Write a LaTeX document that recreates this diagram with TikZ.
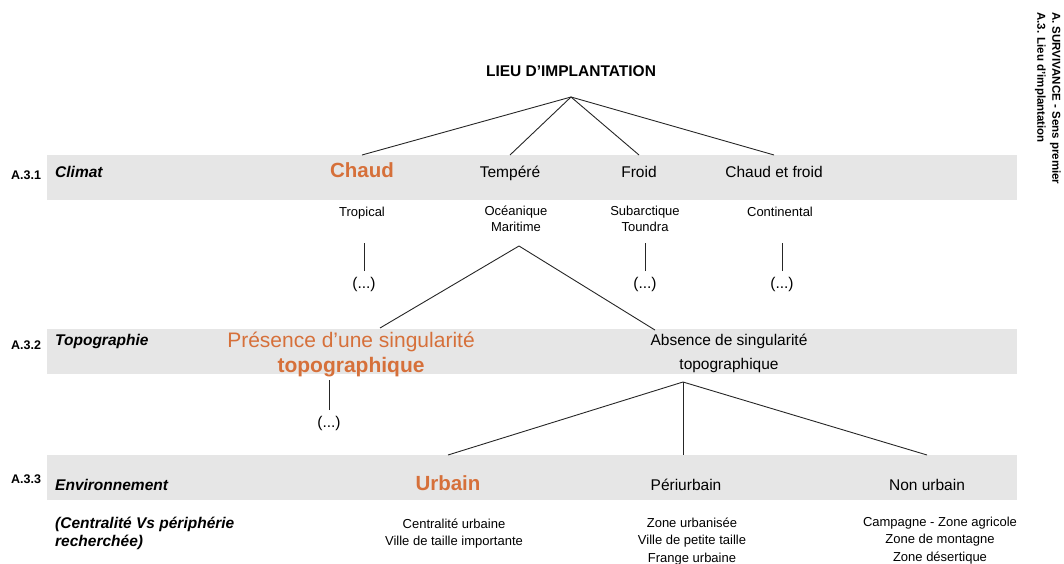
\documentclass[tikz,border=0pt]{standalone}
\usepackage{fontspec}
\setmainfont{Liberation Sans}
\definecolor{pickorange}{RGB}{214,112,58}
\definecolor{bandgray}{RGB}{230,230,230}
\tikzset{
  band/.style={fill=bandgray, inner sep=0pt, minimum width=970pt, minimum height=45pt, anchor=north west},
  code/.style={anchor=base west, inner sep=0pt, font=\bfseries\fontsize{12.5}{15}\selectfont},
  theme/.style={anchor=base west, inner sep=0pt, align=left, font=\bfseries\itshape\fontsize{15.5}{18.5}\selectfont},
  title/.style={anchor=base, font=\bfseries\fontsize{15.5}{18}\selectfont},
  opt/.style={anchor=base, align=center, font=\fontsize{15.5}{24}\selectfont},
  pick/.style={anchor=base, text=pickorange, font=\bfseries\fontsize{20.5}{24}\selectfont},
  detail/.style={anchor=base, align=center, font=\fontsize{13}{15.5}\selectfont},
  spread/.style={anchor=base, align=center, font=\fontsize{13}{17.5}\selectfont},
  link/.style={line width=0.9pt, draw=black!85},
}
\begin{document}
\begin{tikzpicture}[x=1pt, y=-1pt]
\useasboundingbox (0,0) rectangle (1064,564);
% grey bands
\node[band] (band1) at (47,155) {};
\node[band] (band2) at (47,329) {};
\node[band] (band3) at (47,455) {};
% header
\node[title] (lieu) at (571,77) {LIEU D’IMPLANTATION};
\coordinate (lieu-fork) at (571,97);
\node[rotate=-90, anchor=north west, inner sep=0pt, align=left, font=\bfseries\fontsize{11.5}{15}\selectfont] (section) at (1061,12) {A. SURVIVANCE - Sens premier\\A.3. Lieu d’implantation};
% A.3.1 climat
\node[code] (c1) at (11,179) {A.3.1};
\node[theme] (climat) at (55,177) {Climat};
\node[pick] (chaud) at (362,177) {Chaud};
\node[opt] (tempere) at (510,177.5) {Tempéré};
\node[opt] (froid) at (639,177.5) {Froid};
\node[opt] (chaudfroid) at (774,177.5) {Chaud et froid};
\draw[link] (lieu-fork) -- (chaud |- band1.north);
\draw[link] (lieu-fork) -- (tempere |- band1.north);
\draw[link] (lieu-fork) -- (froid |- band1.north);
\draw[link] (lieu-fork) -- (chaudfroid |- band1.north);
% climate types
\node[detail] (tropical) at (362,216) {Tropical};
\node[detail] (oceanique) at (516,231) {Océanique\\Maritime};
\node[detail] (subarctique) at (645,231) {Subarctique\\Toundra};
\node[detail] (continental) at (780,216) {Continental};
\node[opt] (dots1) at (364,288) {(...)};
\node[opt] (dots2) at (645,288) {(...)};
\node[opt] (dots3) at (782,288) {(...)};
\draw[link] ([yshift=2pt]dots1.north) -- ++(0,-28);
\draw[link] ([yshift=2pt]dots2.north) -- ++(0,-28);
\draw[link] ([yshift=2pt]dots3.north) -- ++(0,-28);
\coordinate (oce-fork) at (519,246);
% A.3.2 topographie
\node[code] (c2) at (11,349) {A.3.2};
\node[theme] (topo) at (55,345) {Topographie};
\node[anchor=base, align=center, text=pickorange, font=\fontsize{21}{25}\selectfont] (presence) at (351,372) {Présence d’une singularité\\\textbf{topographique}};
\node[opt] (absence) at (729,369) {Absence de singularité\\topographique};
\draw[link] (oce-fork) -- ([xshift=29pt]presence.north);
\draw[link] (oce-fork) -- ([xshift=-74pt]absence.north);
\node[opt] (dots4) at (329,427) {(...)};
\draw[link] ([yshift=2pt]dots4.north) -- ++(0,-30);
\coordinate (abs-fork) at (683,382);
% A.3.3 environnement
\node[code] (c3) at (11,483) {A.3.3};
\node[theme] (environnement) at (55,490.5) {Environnement};
\node[pick] (urbain) at (448,490) {Urbain};
\node[opt] (periurbain) at (686,490) {Périurbain};
\node[opt] (nonurbain) at (927,490) {Non urbain};
\draw[link] (abs-fork) -- (urbain |- band3.north);
\draw[link] (abs-fork) -- (abs-fork |- band3.north);
\draw[link] (abs-fork) -- (nonurbain |- band3.north);
\node[theme] (centralite) at (55,546.5) {(Centralité Vs périphérie\\recherchée)};
\node[spread] (urbain-d) at (454,545.5) {Centralité urbaine\\Ville de taille importante};
\node[spread] (periurbain-d) at (692,562) {Zone urbanisée\\Ville de petite taille\\Frange urbaine};
\node[spread] (nonurbain-d) at (940,561) {Campagne - Zone agricole\\Zone de montagne\\Zone désertique};
\end{tikzpicture}
\end{document}
